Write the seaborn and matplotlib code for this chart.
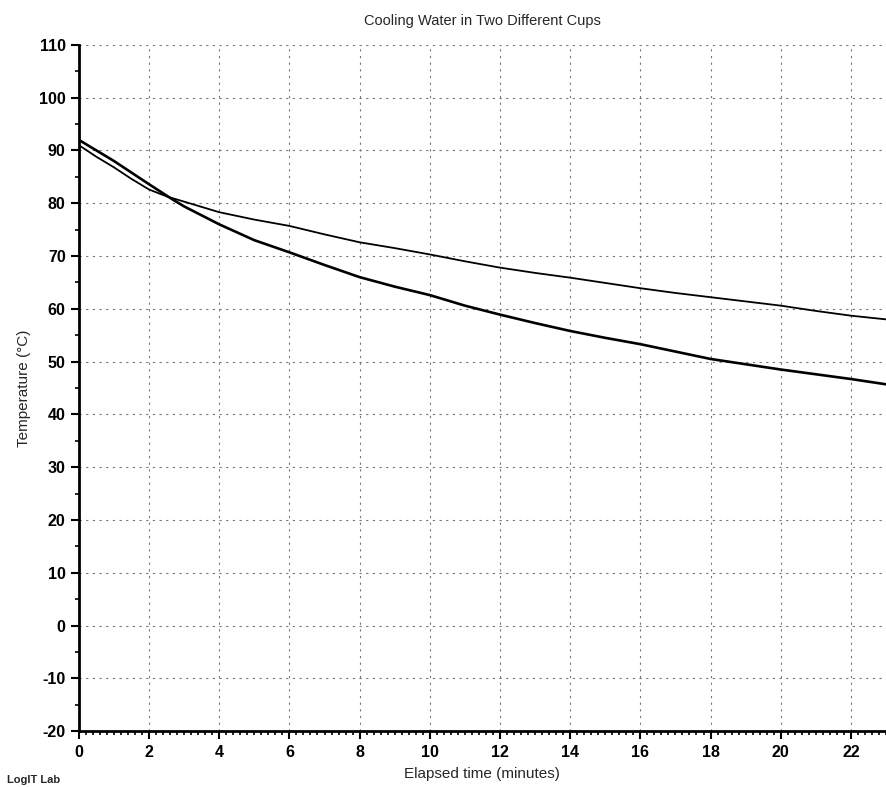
import matplotlib
matplotlib.use("Agg")
import matplotlib.pyplot as plt
from matplotlib.ticker import MultipleLocator
import seaborn as sns
import pandas as pd

# Cup 1 (faster cooling)
time_a = [0, 1, 2, 2.65, 3, 4, 5, 6, 7, 8, 9, 10, 11, 12, 13, 14, 15, 16, 17, 18, 19, 20, 21, 22, 23]
temp_a = [92.0, 88.0, 83.6, 80.8, 79.4, 76.0, 73.0, 70.7, 68.3, 66.0, 64.2, 62.6, 60.6, 58.9, 57.3,
          55.8, 54.5, 53.3, 51.9, 50.5, 49.5, 48.5, 47.6, 46.7, 45.7]
# Cup 2 (slower cooling)
time_b = [0, 0.5, 1, 1.5, 2, 2.5, 3, 4, 5, 6, 7, 8, 9, 10, 11, 12, 13, 14, 15, 16, 17, 18, 19, 20, 21, 22, 23]
temp_b = [91.0, 88.8, 86.8, 84.6, 82.6, 81.3, 80.3, 78.3, 76.9, 75.7, 74.1, 72.6, 71.5, 70.3, 69.0,
          67.8, 66.8, 65.9, 64.9, 63.9, 63.0, 62.2, 61.4, 60.6, 59.6, 58.7, 58.0]

x_ticks = list(range(0, 23, 2))
y_ticks = list(range(-20, 111, 10))

sns.set_style("white")
plt.rcParams['font.family'] = ['Liberation Sans', 'DejaVu Sans']
plt.rcParams['axes.unicode_minus'] = False

fig = plt.figure(figsize=(8.86, 7.87), dpi=100)
ax = fig.add_axes([0.089, 0.071, 0.911, 0.872])

df_a = pd.DataFrame({"t": time_a, "T": temp_a})
df_b = pd.DataFrame({"t": time_b, "T": temp_b})
sns.lineplot(data=df_a, x="t", y="T", ax=ax, color="black", linewidth=1.9)
sns.lineplot(data=df_b, x="t", y="T", ax=ax, color="black", linewidth=1.3)

ax.set_xlim(0, 23)
ax.set_ylim(-20, 110)
ax.set_xticks(x_ticks)
ax.set_yticks(y_ticks)
ax.xaxis.set_minor_locator(MultipleLocator(0.2))
ax.yaxis.set_minor_locator(MultipleLocator(5))

ax.grid(True, which="major", color="#777777", linestyle=(0, (2, 4)), linewidth=0.8)
for s in ["top", "right"]:
    ax.spines[s].set_visible(False)
for s in ["left", "bottom"]:
    ax.spines[s].set_color("black")
    ax.spines[s].set_linewidth(2.0)

ax.tick_params(axis="both", which="major", direction="out", length=6, width=1.5, colors="black",
               labelsize=11.5, left=True, bottom=True)
ax.tick_params(axis="x", which="major", pad=4)
ax.tick_params(axis="both", which="minor", direction="out", length=3, width=1.2, colors="black",
               left=True, bottom=True)
for lab in ax.get_xticklabels() + ax.get_yticklabels():
    lab.set_fontweight("bold")

ax.set_xlabel("Elapsed time (minutes)", fontsize=11, labelpad=5)
ax.set_ylabel("Temperature (°C)", fontsize=11, labelpad=6)
ax.set_title("Cooling Water in Two Different Cups", fontsize=10.5, pad=14)

fig.text(0.008, 0.002, "LogIT Lab", fontsize=8, fontweight="bold", ha="left", va="bottom")

fig.savefig("out.png", dpi=100)
